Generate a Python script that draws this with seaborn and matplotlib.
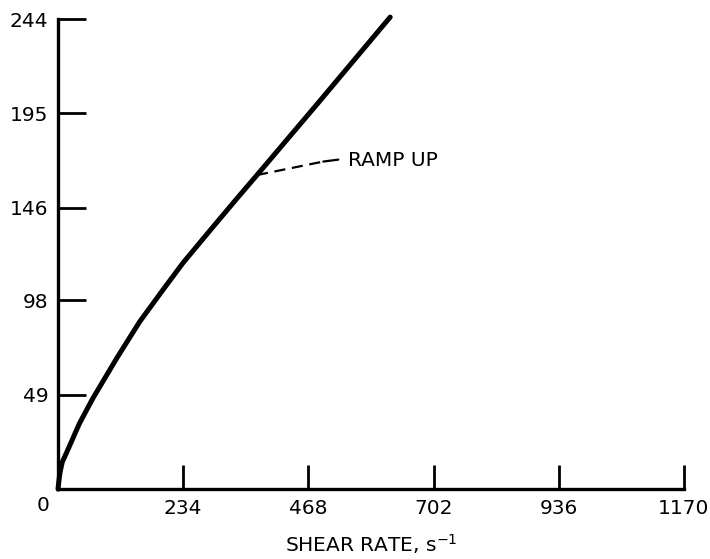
import pandas as pd
import seaborn as sns
import matplotlib.pyplot as plt

# curve
shear_rate = [0, 2, 4, 8, 17, 40, 65, 110, 153, 197, 234, 285, 335, 372, 485, 621]
stress = [0, 5, 9, 14, 19.5, 34, 47, 68, 87, 103.7, 117.5, 134.5, 151, 163, 200, 245]

x_ticks = [234, 468, 702, 936, 1170]
y_ticks = [49, 98, 146, 195, 244]

df = pd.DataFrame({'shear': shear_rate, 'stress': stress})

sns.set_style('ticks')
plt.rcParams['font.family'] = ['DejaVu Sans']
plt.rcParams['text.color'] = 'black'
plt.rcParams['axes.labelcolor'] = 'black'

fig = plt.figure(figsize=(7.10, 5.59), dpi=100)
ax = fig.add_axes([0.0817, 0.1252, 0.8815, 0.8408])

sns.lineplot(data=df, x='shear', y='stress', ax=ax, color='black', lw=3.6,
             solid_capstyle='round', solid_joinstyle='round', sort=False,
             clip_on=False)

ax.set_xlim(0, 1170)
ax.set_ylim(0, 244)
ax.set_xticks(x_ticks)
ax.set_yticks(y_ticks)
ax.set_xticklabels([str(v) for v in x_ticks], fontsize=14.5)
ax.set_yticklabels([str(v) for v in y_ticks], fontsize=14.5)
ax.tick_params(axis='x', direction='in', length=17, width=2, pad=7, colors='black')
ax.tick_params(axis='y', direction='in', length=20, width=2, pad=7, colors='black')
for s in ['top', 'right']:
    ax.spines[s].set_visible(False)
for s in ['left', 'bottom']:
    ax.spines[s].set_linewidth(2.4)
    ax.spines[s].set_color('black')

ax.text(-0.024, -0.036, '0', transform=ax.transAxes, fontsize=14.5,
        ha='center', va='center', color='black')

ax.set_xlabel('SHEAR RATE, s$^{-1}$', fontsize=14.5, labelpad=10, color='black')
ax.set_ylabel('')

# leader to the label
ax.plot([372, 496], [163, 170], color='black', lw=1.6, ls=(0, (5, 3)))
ax.plot([496, 524], [170, 171], color='black', lw=1.6)
ax.text(543, 170.5, 'RAMP UP', fontsize=14.5, ha='left', va='center', color='black')

plt.savefig('out.png', dpi=100)
